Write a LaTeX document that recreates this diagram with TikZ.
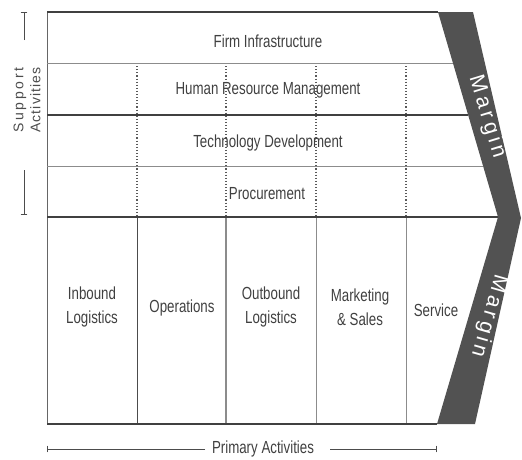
\documentclass[tikz,border=0pt]{standalone}
\usepackage{fontspec}
\setmainfont{Liberation Sans}[FakeStretch=0.76]
\newfontfamily\spacedfont{Liberation Sans}[LetterSpace=18]
\newfontfamily\supfont{Liberation Sans}[LetterSpace=20]
\newfontfamily\actfont{Liberation Sans}[LetterSpace=8]
\begin{document}
\begin{tikzpicture}[x=1pt,y=-1pt,
  lbl/.style={font=\fontsize{17.5}{24}\selectfont, text=black!75, align=center, inner sep=0pt},
  side/.style={font=\fontsize{14}{17}\selectfont, text=black!70, align=center, inner sep=0pt},
  mrg/.style={font=\spacedfont\fontsize{21.5}{21.5}\selectfont, text=white, inner sep=0pt},
  rule/.style={line width=1.1pt, black!75},
  thin/.style={line width=0.8pt, black!45},
  dots/.style={line width=1.1pt, black!65, dotted},
  tick/.style={line width=0.7pt, black!70, -|}]
\useasboundingbox (0,0) rectangle (522,459);
% corners of the rows
\coordinate (a0) at (47,12);
\coordinate (a1) at (47,63);
\coordinate (a2) at (47,115);
\coordinate (a3) at (47,166);
\coordinate (a4) at (47,217);
\coordinate (a5) at (47,424);
\coordinate (b0) at (438,12);
\coordinate (b1) at (453,63);
\coordinate (b2) at (468,115);
\coordinate (b3) at (483,166);
\coordinate (b4) at (498,217);
\coordinate (b5) at (437,424);
% columns
\coordinate (c1) at (137,63);
\coordinate (c2) at (226,63);
\coordinate (c3) at (316,63);
\coordinate (c4) at (406,63);
\coordinate (d1) at (137,217);
\coordinate (d2) at (226,217);
\coordinate (d3) at (316,217);
\coordinate (d4) at (406,217);
\coordinate (e1) at (137,424);
\coordinate (e2) at (226,424);
\coordinate (e3) at (316,424);
\coordinate (e4) at (406,424);

\draw[dots](c1) -- (d1);
\draw[dots](c2) -- (d2);
\draw[dots](c3) -- (d3);
\draw[dots](c4) -- (d4);
\draw[thin, black!70](d1) -- (e1);
\draw[thin, line width=1.3pt](d2) -- (e2);
\draw[thin](d3) -- (e3);
\draw[thin](d4) -- (e4);

\draw[thin, black!60](a0) -- (a5);
\draw[rule](a0) -- (b0);
\draw[thin](a1) -- (b1);
\draw[rule](a2) -- (b2);
\draw[thin](a3) -- (b3);
\draw[rule](a4) -- (b4);
\draw[rule](a5) -- (b5);

% margin band
\fill[black!68] (b0) -- (473,12) -- (521,218) -- (475,424) -- (b5) -- (b4) -- cycle;
\node[mrg, rotate=-73] (mrg1) at (487,117){Margin};
\node[mrg, rotate=-106] (mrg2) at (489,316){Margin};

% support activities
\node[lbl] (firm) at (268,41){Firm Infrastructure};
\node[lbl] (hrm) at (268,90){Human Resource Management};
\node[lbl] (tech) at (268,143){Technology Development};
\node[lbl] (proc) at (267,194){Procurement};

% primary activities
\node[lbl] (inb) at (92,307){Inbound\\Logistics};
\node[lbl] (ops) at (182,308){Operations};
\node[lbl] (outb) at (271,307){Outbound\\Logistics};
\node[lbl] (mkt) at (360,307){Marketing\\\& Sales};
\node[lbl] (serv) at (436,310){Service};

% brackets
\node[side, rotate=90] (sup) at (27,100){{\supfont Support}\\{\actfont Activities}};
\coordinate (s0) at (24,12);
\coordinate (s1) at (24,40);
\coordinate (s2) at (24,170);
\coordinate (s3) at (24,215);
\draw[tick](s1) -- (s0);
\draw[tick](s2) -- (s3);
\node[lbl] (prim) at (263,449){Primary Activities};
\coordinate (p0) at (47,449);
\coordinate (p1) at (205,449);
\coordinate (p2) at (330,449);
\coordinate (p3) at (437,449);
\draw[tick](p1) -- (p0);
\draw[tick](p2) -- (p3);

\end{tikzpicture}
\end{document}
